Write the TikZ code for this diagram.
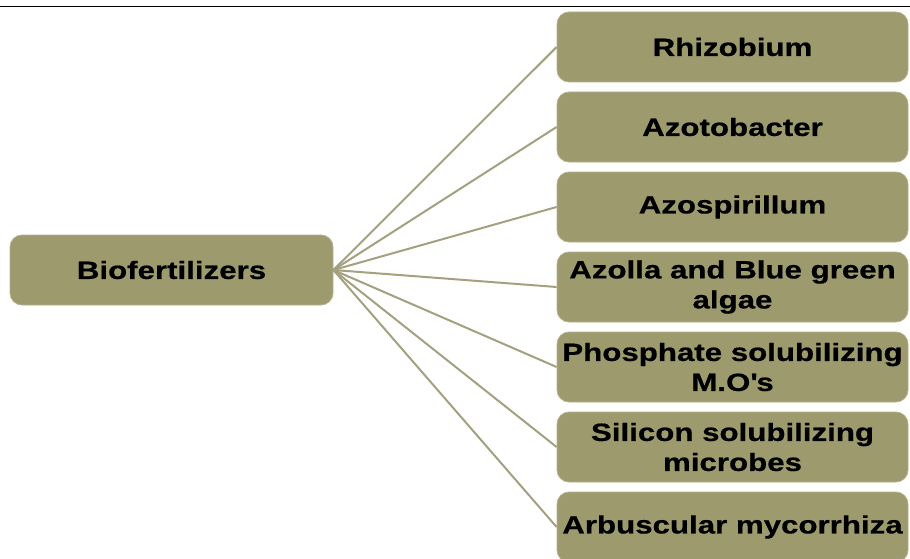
\documentclass[tikz,border=0pt]{standalone}
\usepackage{fontspec}
\setmainfont{Liberation Sans}[FakeStretch=1.25, BoldFeatures={FakeBold=0.6}]
\definecolor{boxc}{HTML}{9D9B6E}
\definecolor{edgec}{HTML}{B3B190}
\definecolor{linec}{HTML}{A3A17F}
\begin{document}
\begin{tikzpicture}[x=1pt,y=-1pt,
  box/.style={rectangle, rounded corners=12pt, fill=boxc, draw=edgec, line width=0.8pt,
    minimum height=70pt, inner sep=0pt, align=center,
    font=\bfseries\fontsize{25}{30}\selectfont},
  rbox/.style={box, minimum width=351pt},
  conn/.style={draw=linec, line width=2pt}]
\useasboundingbox (0,0) rectangle (910,559);
\fill[white] (0,0) rectangle (910,559);
\draw[black, line width=1pt] (0,7) -- (910,7);
\node[box, minimum width=323pt] (bio) at (171.5,270) {Biofertilizers};
\node[rbox] (r1) at (732.5,47) {Rhizobium};
\node[rbox] (r2) at (732.5,127) {Azotobacter};
\node[rbox] (r3) at (732.5,207) {Azospirillum};
\node[rbox] (r4) at (732.5,287) {Azolla and Blue green\\algae};
\node[rbox] (r5) at (732.5,367) {Phosphate solubilizing\\M.O\textquotesingle s};
\node[rbox] (r6) at (732.5,447) {Silicon solubilizing\\microbes};
\node[rbox] (r7) at (732.5,527) {Arbuscular mycorrhiza};
\foreach \n in {r1,r2,r3,r4,r5,r6,r7}{
  \draw[conn] (bio.east) -- (\n.west);
}
\end{tikzpicture}
\end{document}
